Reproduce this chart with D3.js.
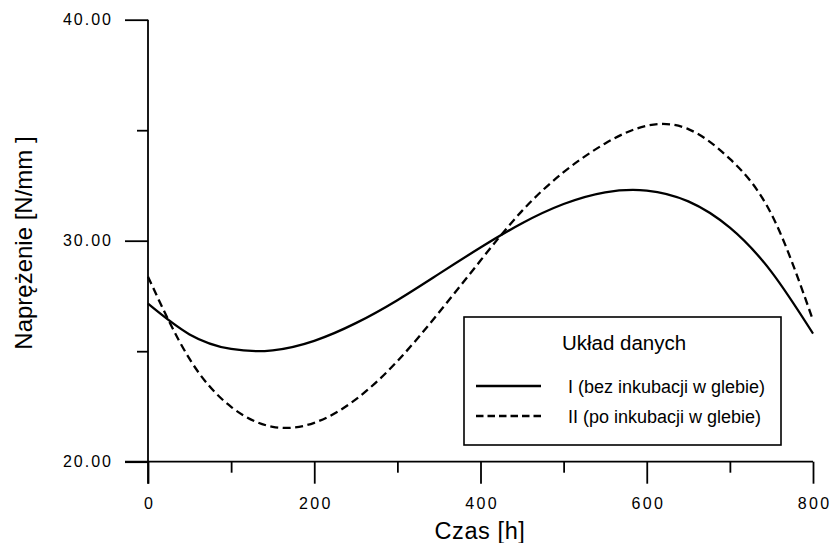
<!DOCTYPE html>
<html>
<head>
<meta charset="utf-8">
<script src="https://cdn.jsdelivr.net/npm/d3@7"></script>
<style>
  html, body { margin: 0; padding: 0; background: #fff; }
  svg { display: block; }
  text { font-family: "Liberation Sans", Arial, Helvetica, sans-serif; fill: #000; }
</style>
</head>
<body>
<svg id="chart" width="831" height="543"></svg>
<script>
// ---- data ----
const times = [0, 50, 100, 150, 200, 250, 300, 350, 400, 450, 500, 550, 600, 650, 700, 750, 800];
const seriesI = [27.15, 25.76, 25.10, 25.04, 25.47, 26.27, 27.31, 28.50, 29.69, 30.79, 31.66, 32.19, 32.27, 31.78, 30.59, 28.59, 25.80];
const seriesII = [28.37, 24.65, 22.48, 21.58, 21.76, 22.82, 24.55, 26.75, 29.10, 31.35, 33.10, 34.40, 35.20, 35.05, 33.70, 31.20, 26.40];
const seriesNames = ["I (bez inkubacji w glebie)", "II (po inkubacji w glebie)"];
const xMajorTicks = [0, 200, 400, 600, 800];
const xMinorTicks = [100, 300, 500, 700];
const yMajorTicks = [20, 30, 40];
const yMinorTicks = [25, 35];
const xTitle = "Czas [h]";
const yTitle = "Naprężenie [N/mm ]";
const legendTitle = "Układ danych";

// ---- layout ----
const svg = d3.select("#chart");
const x = d3.scaleLinear().domain([0, 800]).range([148, 813]);
const y = d3.scaleLinear().domain([20, 40]).range([461.7, 19.7]);
const AX = 1.8;

// x axis (major)
const gx = svg.append("g").attr("transform", `translate(0,${y(20)})`)
  .call(d3.axisBottom(x).tickValues(xMajorTicks).tickSize(22).tickPadding(14).tickFormat(d3.format("d")));
gx.select(".domain").remove();
gx.selectAll(".tick line").attr("stroke", "#000").attr("stroke-width", AX);
gx.selectAll(".tick text").attr("font-size", 16).attr("letter-spacing", "2.3px")
  .attr("dx", "1.1px").attr("font-family", "\"Liberation Sans\", Arial, sans-serif");
// x axis (minor)
const gxm = svg.append("g").attr("transform", `translate(0,${y(20)})`)
  .call(d3.axisBottom(x).tickValues(xMinorTicks).tickSize(11).tickFormat(""));
gxm.select(".domain").remove();
gxm.selectAll(".tick line").attr("stroke", "#000").attr("stroke-width", AX);

// y axis (major)
const gy = svg.append("g").attr("transform", `translate(${x(0)},0)`)
  .call(d3.axisLeft(y).tickValues(yMajorTicks).tickSize(23).tickPadding(12).tickFormat(d3.format(".2f")));
gy.select(".domain").remove();
gy.selectAll(".tick line").attr("stroke", "#000").attr("stroke-width", AX);
gy.selectAll(".tick text").attr("font-size", 16).attr("letter-spacing", "2px")
  .attr("dx", "0px").attr("font-family", "\"Liberation Sans\", Arial, sans-serif");
// y axis (minor)
const gym = svg.append("g").attr("transform", `translate(${x(0)},0)`)
  .call(d3.axisLeft(y).tickValues(yMinorTicks).tickSize(11).tickFormat(""));
gym.select(".domain").remove();
gym.selectAll(".tick line").attr("stroke", "#000").attr("stroke-width", AX);

// axis lines
svg.append("line").attr("x1", x(0) - 23).attr("x2", x(800)).attr("y1", y(20)).attr("y2", y(20))
  .attr("stroke", "#000").attr("stroke-width", AX);
svg.append("line").attr("x1", x(0)).attr("x2", x(0)).attr("y1", y(40)).attr("y2", y(20) + 22)
  .attr("stroke", "#000").attr("stroke-width", AX);

// axis titles
svg.append("text").attr("x", 480).attr("y", 539).attr("text-anchor", "middle")
  .attr("font-size", 23.5).attr("letter-spacing", "0.6px").text(xTitle);
svg.append("text").attr("transform", "translate(32,243) rotate(-90)").attr("text-anchor", "middle")
  .attr("font-size", 24).text(yTitle);

// curves
const line = d3.line().x((d, i) => x(times[i])).y(d => y(d)).curve(d3.curveNatural);
svg.append("path").datum(seriesI).attr("d", line).attr("fill", "none")
  .attr("stroke", "#000").attr("stroke-width", 2.3);
svg.append("path").datum(seriesII).attr("d", line).attr("fill", "none")
  .attr("stroke", "#000").attr("stroke-width", 2.3).attr("stroke-dasharray", "8,4.5");

// legend
const lg = svg.append("g");
lg.append("rect").attr("x", 464).attr("y", 317).attr("width", 317).attr("height", 128)
  .attr("fill", "#fff").attr("stroke", "#000").attr("stroke-width", 1.6);
lg.append("text").attr("x", 624).attr("y", 350).attr("text-anchor", "middle")
  .attr("font-size", 20.5).text(legendTitle);
const rows = [386, 416];
seriesNames.forEach((name, i) => {
  lg.append("line").attr("x1", 476).attr("x2", 541).attr("y1", rows[i]).attr("y2", rows[i])
    .attr("stroke", "#000").attr("stroke-width", 2.3)
    .attr("stroke-dasharray", i === 1 ? "7.5,4" : null);
  lg.append("text").attr("x", 568).attr("y", rows[i] + 6.5).attr("font-size", 18).text(name);
});
</script>
</body>
</html>
